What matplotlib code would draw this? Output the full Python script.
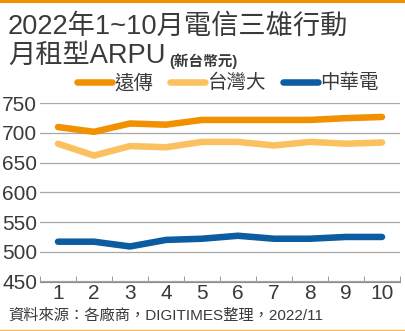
import matplotlib.pyplot as plt
from matplotlib.lines import Line2D

plt.rcParams['font.family'] = ['Liberation Sans', 'Noto Sans CJK TC', 'DejaVu Sans']

months = [1, 2, 3, 4, 5, 6, 7, 8, 9, 10]
fet = [710, 702, 716, 714, 722, 722, 722, 722, 725, 727]
twm = [682, 662, 678, 676, 685, 685, 679, 685, 682, 684]
cht = [517, 517, 509, 520, 522, 527, 522, 522, 525, 525]
names = ['遠傳', '台灣大', '中華電']
colors = ['#F29100', '#FBC15E', '#0B5CA0']
yticks = [450, 500, 550, 600, 650, 700, 750]

text_c = '#3a3a3a'
fig = plt.figure(figsize=(4.06, 3.31), dpi=100)

# orange frame lines
fig.add_artist(Line2D([0, 1], [0.996, 0.996], color='#F29100', lw=2.2, transform=fig.transFigure))
fig.add_artist(Line2D([0, 1], [0.002, 0.002], color='#F7B55A', lw=1.0, transform=fig.transFigure))

fig.text(0.02, 0.92, '2022年1~10月電信三雄行動', fontsize=19.6, color=text_c, va='center')
fig.text(0.02, 0.83, '月租型ARPU', fontsize=19.6, color=text_c, va='center')
fig.text(0.418, 0.815, '(新台幣元)', fontsize=10.5, color=text_c, va='center', fontweight='bold')

ax = fig.add_axes([40 / 406, (331 - 281.5) / 331, 360 / 406, (281.5 - 103.3) / 331])
for vals, c in zip([fet, twm, cht], colors):
    ax.plot(months, vals, color=c, lw=4.7, solid_capstyle='round', solid_joinstyle='round', clip_on=False)

ax.set_xlim(0.5, 10.5)
ax.set_ylim(450, 750)
ax.set_yticks(yticks)
ax.set_xticks(months)
ax.set_xticks([m + 0.5 for m in [0] + months], minor=True)
ax.grid(axis='y', color='#a8a8a8', lw=0.9)
ax.set_axisbelow(True)
for s in ['left', 'right', 'top']:
    ax.spines[s].set_visible(False)
ax.spines['bottom'].set_color('#8a8a8a')
ax.tick_params(axis='y', length=0, pad=2, labelsize=15, labelcolor=text_c)
ax.tick_params(axis='x', which='major', length=0, pad=2, labelsize=15, labelcolor=text_c)
ax.tick_params(axis='x', which='minor', direction='in', length=4, color='#8a8a8a')

handles = [Line2D([0], [0], color=c, lw=4.7, solid_capstyle='round') for c in colors]
fig.legend(handles, names, loc='center left', bbox_to_anchor=(77 / 406, 1 - 83 / 331), ncol=3,
           frameon=False, borderpad=0, borderaxespad=0,
           fontsize=14, handlelength=1.8, handletextpad=0.1, columnspacing=0.9,
           labelcolor=text_c)

fig.text(0.02, 0.046, '資料來源：各廠商，DIGITIMES整理，2022/11', fontsize=11, color=text_c, va='center')

fig.savefig('out.png', dpi=100)
